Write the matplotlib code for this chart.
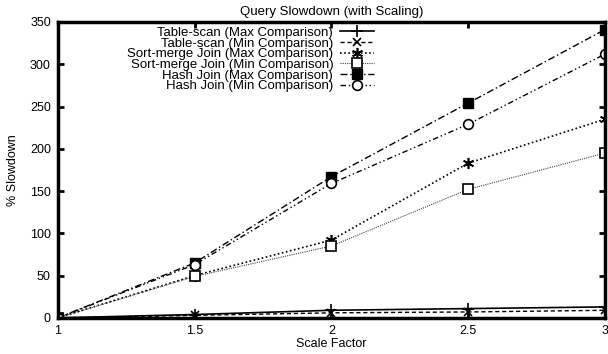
import matplotlib
matplotlib.use("Agg")
import matplotlib.pyplot as plt

scale = [1, 1.5, 2, 2.5, 3]
ts_max = [0, 4, 9, 11, 13]
ts_min = [0, 3, 6, 7, 9]
sm_max = [0, 50, 92, 183, 235]
sm_min = [0, 49, 85, 152, 195]
hj_max = [0, 65, 167, 254, 341]
hj_min = [0, 63, 159, 229, 312]

labels = [
    "Table-scan (Max Comparison)",
    "Table-scan (Min Comparison)",
    "Sort-merge Join (Max Comparison)",
    "Sort-merge Join (Min Comparison)",
    "Hash Join (Max Comparison)",
    "Hash Join (Min Comparison)",
]

plt.rcParams["font.family"] = ["Liberation Sans", "DejaVu Sans"]

fig = plt.figure(figsize=(6.08, 3.54), dpi=100)
ax = fig.add_axes([0.095, 0.102, 0.9, 0.836])

ax.plot(scale, ts_max, color="black", lw=1.2, ls="-", marker="+", ms=8, mew=1.2, label=labels[0])
ax.plot(scale, ts_min, color="black", lw=1.0, ls=(0, (3, 2)), marker="x", ms=6, mew=1.2, label=labels[1])
ax.plot(scale, sm_max, color="black", lw=1.2, ls=(0, (1, 1.5)), marker=(6, 2, 0), ms=8, mew=1.2, label=labels[2])
ax.plot(scale, sm_min, color="#444444", lw=0.8, ls=(0, (1, 1)), marker="s", ms=7, mfc="white", mec="black", mew=1.2, label=labels[3])
ax.plot(scale, hj_max, color="black", lw=1.0, ls=(0, (5, 2, 1, 2)), marker="s", ms=7, label=labels[4])
ax.plot(scale, hj_min, color="black", lw=1.0, ls=(0, (4, 2, 1, 2, 1, 2)), marker="o", ms=7, mfc="white", mec="black", mew=1.2, label=labels[5])

ax.set_xlim(1, 3)
ax.set_ylim(0, 350)
ax.set_xticks([1, 1.5, 2, 2.5, 3])
ax.set_xticklabels(["1", "1.5", "2", "2.5", "3"])
ax.set_yticks(range(0, 351, 50))
ax.tick_params(direction="in", top=True, right=True, length=4, width=2, labelsize=9, pad=5)
for s in ax.spines.values():
    s.set_linewidth(2.5)

ax.set_xlabel("Scale Factor", fontsize=9, labelpad=1)
ax.set_ylabel("% Slowdown", fontsize=9, labelpad=8)
ax.set_title("Query Slowdown (with Scaling)", fontsize=9.5, pad=5)

leg = ax.legend(loc="upper right", bbox_to_anchor=(0.595, 1.015),
                markerfirst=False, frameon=False, fontsize=9.5, handlelength=2.6,
                labelspacing=-0.12, borderpad=0.2, handletextpad=0.5)
for t in leg.get_texts():
    t.set_ha("right")
leg._legend_box.align = "right"

fig.savefig("out.png", dpi=100)
